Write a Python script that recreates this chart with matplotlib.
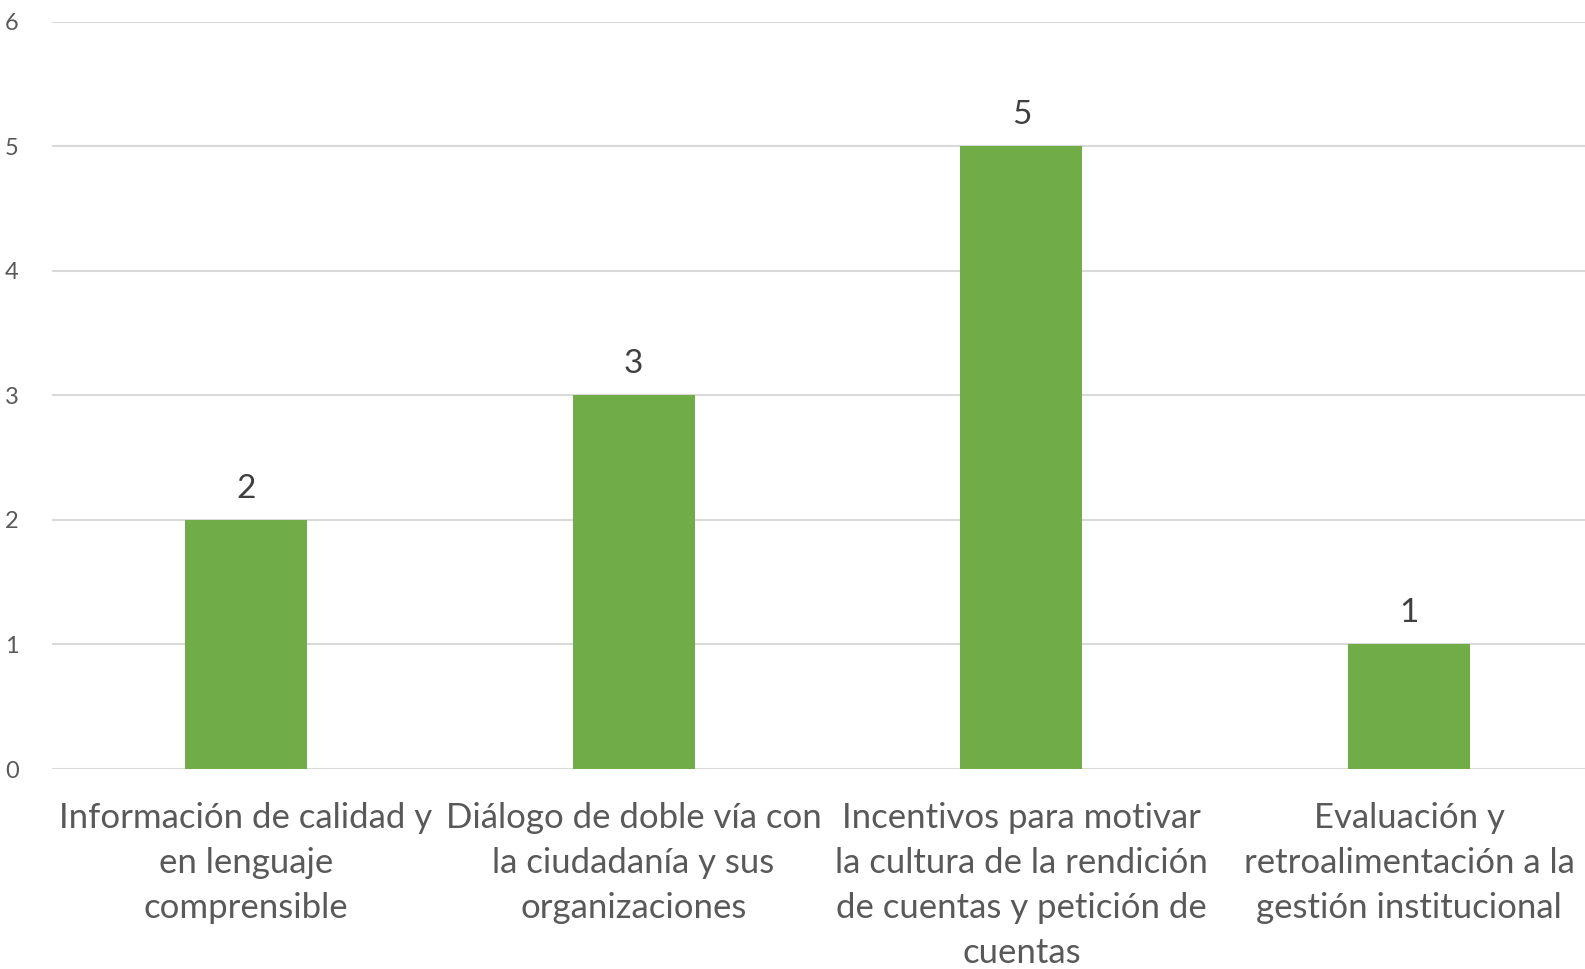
import matplotlib.pyplot as plt
import numpy as np

plt.rcParams['font.family'] = ['Lato', 'DejaVu Sans']

categories = [
    "Información de calidad y\nen lenguaje\ncomprensible",
    "Diálogo de doble vía con\nla ciudadanía y sus\norganizaciones",
    "Incentivos para motivar\nla cultura de la rendición\nde cuentas y petición de\ncuentas",
    "Evaluación y\nretroalimentación a la\ngestión institucional",
]
values = [2, 3, 5, 1]
y_ticks = [0, 1, 2, 3, 4, 5, 6]

BAR_COLOR = "#70AD47"
TEXT_COLOR = "#595959"
GRID_COLOR = "#D9D9D9"

W, H = 1585, 969
fig = plt.figure(figsize=(W / 100, H / 100), dpi=100)
# plot area runs past the right edge of the canvas
left, right = 52, 1603
top, bottom = 21.5, 769
ax = fig.add_axes([left / W, 1 - bottom / H, (right - left) / W, (bottom - top) / H])

x = np.arange(len(categories))
ax.bar(x, values, width=0.315, color=BAR_COLOR, zorder=3)

for xi, v in zip(x, values):
    ax.annotate(str(v), (xi, v), xytext=(0, 16), textcoords='offset pixels',
                ha='center', va='bottom', fontsize=24, color="#404040")

ax.set_xlim(-0.5, len(categories) - 0.5)
ax.set_ylim(0, 6)
ax.set_yticks(y_ticks)
ax.set_yticklabels([str(t) for t in y_ticks], fontsize=17, color=TEXT_COLOR)
ax.yaxis.grid(True, color=GRID_COLOR, linewidth=1.5, zorder=0)
ax.set_axisbelow(True)
ax.tick_params(axis='y', length=0, pad=24)
ax.tick_params(axis='x', length=0, pad=24)
ax.set_xticks(x)
ax.set_xticklabels(categories, fontsize=25, color=TEXT_COLOR, linespacing=1.5)
for s in ax.spines.values():
    s.set_visible(False)

fig.savefig("out.png", dpi=100, facecolor='white')
